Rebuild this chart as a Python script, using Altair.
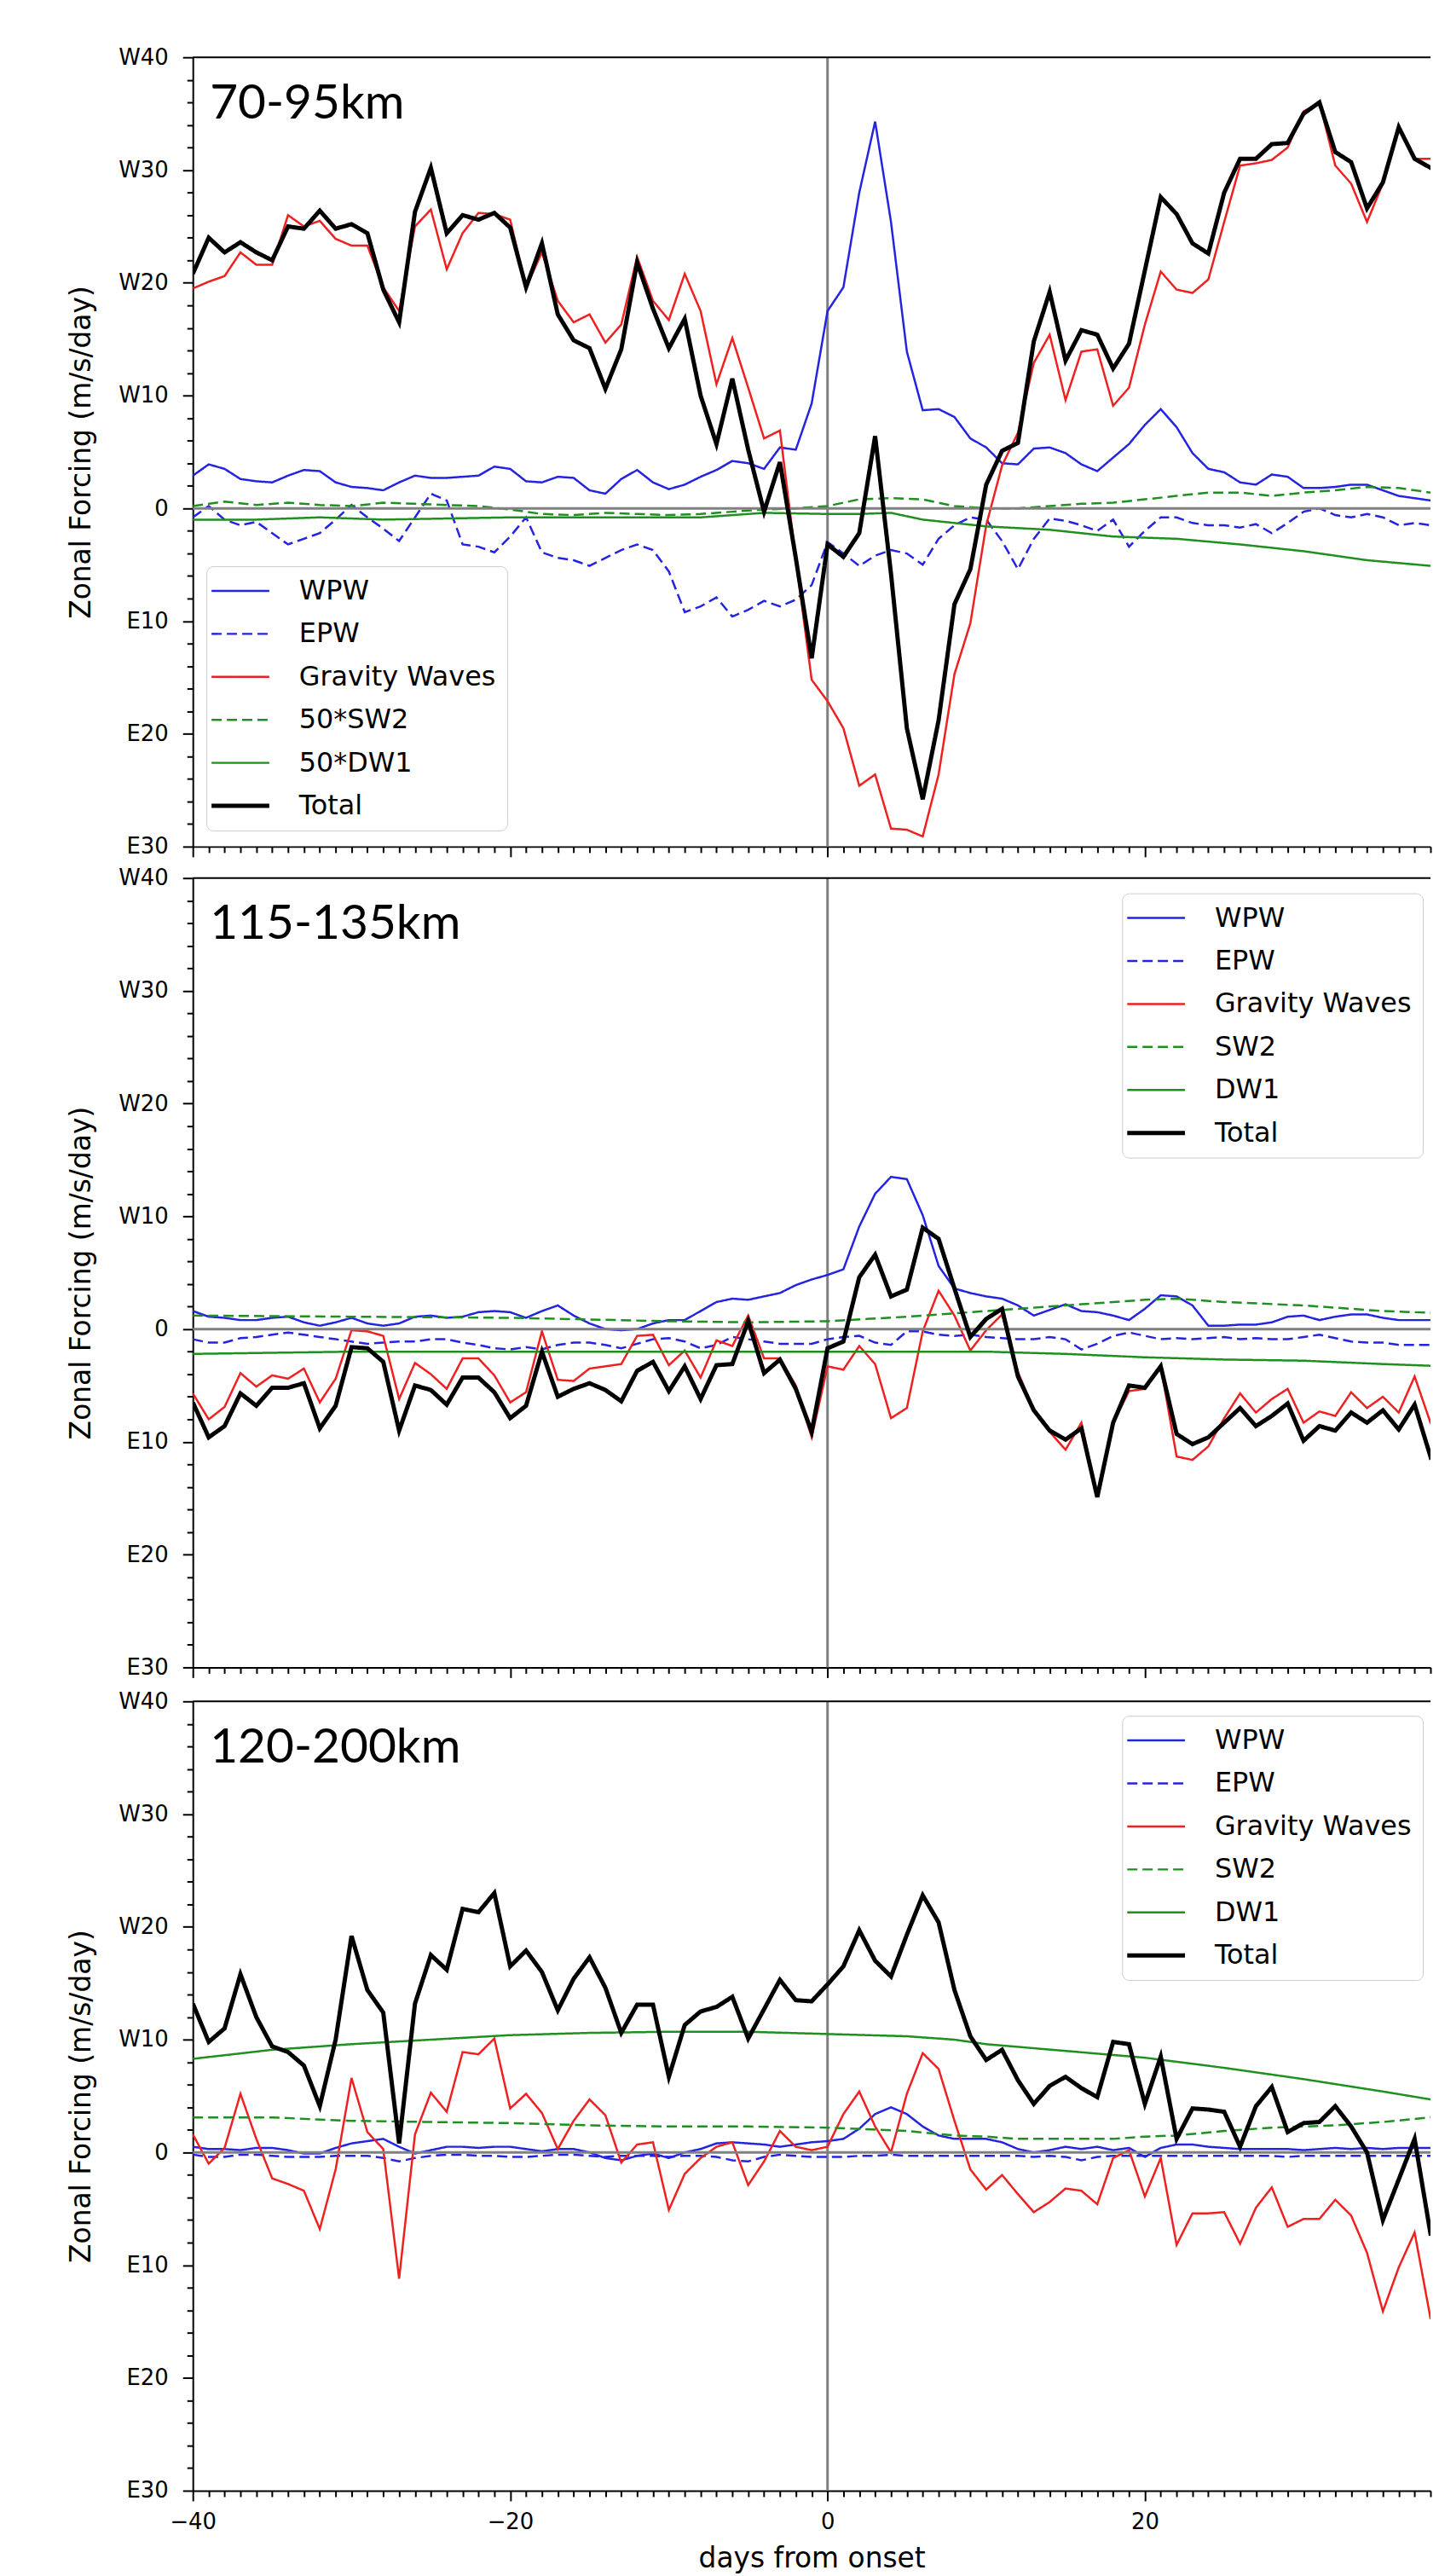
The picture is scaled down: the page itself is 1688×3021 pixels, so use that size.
import altair as alt
import pandas as pd

# ---------------- data ----------------
DAYS = list(range(-40, 40))

# Panel 1: 70-95km
P1_WPW = [2.9, 3.9, 3.5, 2.6, 2.4, 2.3, 2.9, 3.4, 3.3, 2.3,
          1.9, 1.8, 1.6, 2.3, 2.9, 2.7, 2.7, 2.8, 2.9, 3.7,
          3.5, 2.4, 2.3, 2.8, 2.7, 1.6, 1.3, 2.6, 3.4, 2.3,
          1.7, 2.1, 2.8, 3.4, 4.2, 4.0, 3.5, 5.4, 5.2, 9.3,
          17.5, 19.6, 28.0, 34.3, 25.4, 13.9, 8.7, 8.8, 8.1, 6.2,
          5.4, 4.0, 3.9, 5.3, 5.4, 4.9, 3.9, 3.3, 4.5, 5.7,
          7.4, 8.8, 7.2, 4.9, 3.5, 3.2, 2.3, 2.1, 3.0, 2.8,
          1.8, 1.8, 1.9, 2.1, 2.1, 1.6, 1.1, 0.9, 0.7, 0.6]
P1_EPW = [-0.8, 0.2, -1.0, -1.5, -1.2, -2.2, -3.2, -2.7, -2.2, -1.0,
          0.3, -0.8, -1.8, -2.9, -0.8, 1.3, 0.7, -3.2, -3.4, -3.9,
          -2.5, -0.8, -3.9, -4.4, -4.6, -5.1, -4.4, -3.7, -3.2, -3.7,
          -5.6, -9.2, -8.7, -7.9, -9.6, -9.0, -8.2, -8.7, -8.1, -6.8,
          -3.0, -4.0, -5.1, -4.2, -3.7, -4.0, -5.0, -2.7, -1.5, -0.8,
          -1.0, -2.9, -5.4, -2.7, -0.9, -1.1, -1.5, -2.0, -1.0, -3.4,
          -2.0, -0.8, -0.8, -1.3, -1.5, -1.5, -1.7, -1.4, -2.2, -1.3,
          -0.3, 0.0, -0.6, -0.8, -0.5, -0.8, -1.5, -1.3, -1.5, -1.5]
P1_GW = [19.5, 20.1, 20.6, 22.7, 21.6, 21.6, 26.0, 25.0, 25.5, 23.9,
         23.3, 23.3, 19.6, 17.5, 25.0, 26.5, 21.2, 24.4, 26.2, 26.1,
         25.6, 19.6, 22.7, 18.4, 16.5, 17.2, 14.7, 16.3, 22.3, 18.4,
         16.7, 20.8, 17.5, 11.0, 15.1, 10.7, 6.2, 6.9, -4.5, -15.2,
         -17.1, -19.5, -24.6, -23.6, -28.4, -28.5, -29.1, -23.6, -14.7, -10.2,
         -1.5, 3.8, 6.7, 12.9, 15.4, 9.6, 13.9, 14.1, 9.1, 10.7,
         16.3, 21.0, 19.4, 19.1, 20.3, 25.4, 30.4, 30.6, 30.9, 32.0,
         35.2, 36.0, 30.4, 28.8, 25.4, 28.8, 33.7, 31.0, 31.0, 31.0]
P1_TOTAL = [20.8, 24.0, 22.7, 23.6, 22.7, 22.0, 25.0, 24.8, 26.4, 24.8,
            25.2, 24.4, 19.4, 16.5, 26.3, 30.2, 24.4, 26.0, 25.6, 26.2,
            24.9, 19.6, 23.5, 17.2, 14.9, 14.2, 10.6, 14.1, 21.8, 17.7,
            14.2, 16.8, 10.0, 5.7, 11.5, 5.2, -0.3, 4.1, -4.4, -13.3,
            -3.2, -4.3, -2.2, 6.4, -5.8, -19.5, -25.8, -18.8, -8.5, -5.4,
            2.1, 5.1, 5.8, 14.8, 19.2, 13.1, 15.8, 15.4, 12.4, 14.6,
            21.1, 27.6, 26.1, 23.5, 22.6, 28.0, 31.0, 31.0, 32.3, 32.4,
            35.0, 36.0, 31.6, 30.7, 26.6, 28.9, 33.8, 31.0, 30.2, 29.5]
P1_SW2_DAYS = [-40, -38, -36, -34, -32, -30, -28, -26, -24, -22, -20, -18, -16, -14,
               -12, -10, -8, -6, -4, -2, 0, 2, 4, 6, 8, 10, 12, 14, 16, 18, 20, 22,
               24, 26, 28, 30, 32, 34, 36, 38, 39]
P1_SW2 = [0.2, 0.6, 0.3, 0.5, 0.3, 0.2, 0.5, 0.4, 0.3, 0.2, -0.1, -0.5, -0.6, -0.4,
          -0.5, -0.6, -0.5, -0.3, -0.1, 0.0, 0.2, 0.8, 0.9, 0.8, 0.2, 0.0, 0.0, 0.2,
          0.4, 0.5, 0.8, 1.1, 1.4, 1.4, 1.1, 1.4, 1.6, 1.9, 1.8, 1.4, 1.2]
P1_DW1_DAYS = [-40, -36, -32, -28, -24, -20, -16, -12, -8, -4, 0, 2, 4, 6, 8, 10, 14,
               18, 22, 26, 30, 34, 38, 39]
P1_DW1 = [-1.0, -1.0, -0.8, -1.0, -0.9, -0.8, -0.8, -0.8, -0.8, -0.4, -0.5, -0.5,
          -0.4, -1.0, -1.3, -1.6, -1.9, -2.5, -2.7, -3.2, -3.8, -4.6, -5.1, -5.2]

# Panel 2: 115-135km
P2_WPW = [1.6, 1.1, 1.0, 0.8, 0.8, 1.0, 1.1, 0.6, 0.3, 0.6,
          1.0, 0.5, 0.3, 0.5, 1.1, 1.2, 1.0, 1.1, 1.5, 1.6,
          1.5, 1.0, 1.6, 2.1, 1.2, 0.5, 0.0, -0.1, 0.0, 0.5,
          0.8, 0.8, 1.6, 2.4, 2.7, 2.6, 2.9, 3.2, 3.9, 4.4,
          4.8, 5.3, 9.1, 12.0, 13.5, 13.3, 10.1, 5.6, 3.6, 3.2,
          2.9, 2.7, 2.1, 1.2, 1.7, 2.2, 1.6, 1.5, 1.2, 0.8,
          1.8, 3.0, 2.9, 2.1, 0.3, 0.3, 0.4, 0.4, 0.6, 1.1,
          1.2, 0.8, 1.1, 1.3, 1.3, 1.0, 0.8, 0.8, 0.8, 0.8]
P2_EPW = [-0.9, -1.2, -1.2, -0.8, -0.7, -0.5, -0.3, -0.5, -0.7, -0.9,
          -1.1, -1.3, -1.2, -1.1, -1.1, -0.9, -0.9, -1.2, -1.4, -1.7,
          -1.8, -1.6, -1.8, -1.4, -1.2, -1.2, -1.4, -1.7, -1.3, -0.9,
          -0.8, -1.1, -1.7, -1.4, -0.7, -0.9, -1.1, -1.3, -1.3, -1.3,
          -0.9, -0.7, -0.6, -1.2, -1.4, -0.2, -0.2, -0.5, -0.6, -0.5,
          -0.7, -0.8, -0.9, -0.9, -0.7, -0.9, -1.8, -1.3, -0.6, -0.3,
          -0.6, -0.9, -0.8, -0.9, -0.8, -0.7, -0.9, -0.8, -0.9, -0.9,
          -0.7, -0.5, -0.8, -1.1, -1.2, -1.2, -1.4, -1.4, -1.4, -1.4]
P2_GW = [-5.7, -8.0, -6.9, -3.9, -5.1, -4.1, -4.4, -3.5, -6.5, -4.4,
         -0.1, -0.2, -0.6, -6.2, -3.0, -4.0, -5.3, -2.6, -2.6, -4.1,
         -6.5, -5.6, -0.2, -4.5, -4.6, -3.5, -3.3, -3.1, -0.6, -0.5,
         -3.2, -1.9, -4.3, -1.0, -1.5, 1.2, -2.6, -2.6, -5.0, -9.6,
         -3.3, -3.6, -1.5, -3.1, -7.9, -7.0, -0.2, 3.4, 1.2, -1.9,
         -0.1, 1.3, -3.8, -7.2, -9.1, -10.7, -8.3, -14.9, -8.3, -5.5,
         -5.3, -3.3, -11.3, -11.6, -10.4, -7.9, -5.7, -7.4, -6.2, -5.3,
         -8.3, -7.3, -7.7, -5.6, -7.0, -6.0, -7.4, -4.2, -8.3, -8.0]
P2_TOTAL = [-6.5, -9.6, -8.6, -5.7, -6.8, -5.2, -5.2, -4.8, -8.8, -6.8,
            -1.6, -1.7, -2.9, -9.0, -5.0, -5.4, -6.7, -4.3, -4.3, -5.6,
            -7.9, -6.8, -2.0, -6.0, -5.3, -4.8, -5.4, -6.4, -3.7, -2.9,
            -5.5, -3.3, -6.2, -3.2, -3.1, 0.7, -3.9, -2.7, -5.3, -9.1,
            -1.7, -1.1, 4.6, 6.6, 2.9, 3.5, 9.0, 8.0, 3.6, -0.7,
            0.9, 1.8, -4.2, -7.2, -9.0, -9.8, -8.8, -14.9, -8.3, -5.0,
            -5.2, -3.3, -9.3, -10.2, -9.6, -8.3, -7.0, -8.6, -7.7, -6.6,
            -9.9, -8.6, -9.0, -7.4, -8.3, -7.2, -8.9, -6.7, -11.3, -10.0]
P2_SW2_DAYS = [-40, -30, -20, -10, -5, 0, 5, 10, 15, 20, 22, 25, 30, 35, 39]
P2_SW2 = [1.2, 1.1, 1.0, 0.7, 0.6, 0.7, 1.1, 1.6, 2.1, 2.6, 2.7, 2.4, 2.1, 1.6, 1.4]
P2_DW1_DAYS = [-40, -30, -20, -10, 0, 10, 15, 20, 25, 30, 35, 39]
P2_DW1 = [-2.2, -2.0, -2.0, -2.0, -2.0, -2.0, -2.2, -2.5, -2.7, -2.8, -3.1, -3.3]

# Panel 3: 120-200km
P3_WPW = [0.5, 0.3, 0.3, 0.2, 0.4, 0.4, 0.2, -0.1, -0.1, 0.4,
          0.8, 1.0, 1.2, 0.5, -0.1, 0.2, 0.5, 0.5, 0.4, 0.5,
          0.5, 0.3, 0.1, 0.3, 0.3, 0.0, -0.5, -0.7, -0.3, -0.1,
          -0.5, 0.0, 0.3, 0.8, 0.9, 0.8, 0.7, 0.5, 0.7, 0.9,
          1.0, 1.2, 2.1, 3.4, 4.0, 3.4, 2.3, 1.5, 1.2, 1.2,
          1.2, 0.9, 0.3, 0.0, 0.2, 0.5, 0.3, 0.5, 0.2, 0.4,
          -0.4, 0.4, 0.7, 0.7, 0.5, 0.4, 0.3, 0.3, 0.3, 0.3,
          0.2, 0.3, 0.4, 0.3, 0.4, 0.3, 0.4, 0.4, 0.4, 0.4]
P3_EPW = [-0.2, -0.4, -0.4, -0.2, -0.2, -0.3, -0.4, -0.4, -0.4, -0.3,
          -0.3, -0.3, -0.5, -0.8, -0.5, -0.3, -0.2, -0.2, -0.3, -0.3,
          -0.4, -0.4, -0.3, -0.2, -0.2, -0.3, -0.4, -0.3, -0.3, -0.3,
          -0.4, -0.3, -0.3, -0.4, -0.7, -0.8, -0.4, -0.2, -0.3, -0.4,
          -0.4, -0.4, -0.3, -0.3, -0.2, -0.3, -0.3, -0.3, -0.3, -0.3,
          -0.3, -0.3, -0.3, -0.4, -0.3, -0.4, -0.7, -0.4, -0.3, -0.3,
          -0.3, -0.3, -0.3, -0.3, -0.3, -0.3, -0.3, -0.3, -0.3, -0.4,
          -0.3, -0.3, -0.3, -0.3, -0.3, -0.3, -0.3, -0.3, -0.3, -0.3]
P3_GW = [1.6, -1.0, 0.4, 5.2, 1.2, -2.3, -2.8, -3.4, -6.8, -1.5,
         6.6, 1.8, 0.3, -11.2, 1.6, 5.3, 3.6, 8.9, 8.7, 10.1,
         3.9, 5.2, 3.5, 0.3, 2.8, 4.7, 3.3, -0.9, 0.7, 0.9,
         -5.1, -1.9, -0.5, 0.5, 0.9, -2.9, -0.8, 1.9, 0.5, 0.2,
         0.5, 3.4, 5.4, 2.3, 0.0, 5.2, 8.8, 7.4, 2.8, -1.5,
         -3.3, -2.0, -3.7, -5.3, -4.4, -3.2, -3.4, -4.6, -0.5, 0.2,
         -3.9, -0.5, -8.2, -5.4, -5.4, -5.3, -8.1, -4.9, -3.1, -6.6,
         -5.9, -5.9, -4.2, -5.6, -8.9, -14.1, -10.2, -7.1, -14.7, -14.5]
P3_TOTAL = [13.2, 9.8, 11.0, 15.8, 12.0, 9.4, 8.9, 7.7, 4.1, 10.0,
            19.2, 14.4, 12.4, 0.8, 13.2, 17.5, 16.2, 21.6, 21.3, 23.0,
            16.5, 17.9, 16.0, 12.6, 15.4, 17.3, 14.6, 10.6, 13.1, 13.1,
            6.7, 11.3, 12.5, 12.9, 13.8, 10.1, 12.7, 15.3, 13.5, 13.4,
            14.9, 16.5, 19.7, 17.0, 15.6, 19.3, 22.8, 20.4, 14.4, 10.3,
            8.2, 9.1, 6.4, 4.3, 5.9, 6.7, 5.7, 4.9, 9.8, 9.6,
            4.3, 8.5, 1.2, 3.9, 3.8, 3.6, 0.5, 4.1, 5.8, 1.8,
            2.6, 2.7, 4.1, 2.3, 0.0, -6.0, -2.4, 1.2, -7.2, -7.0]
P3_SW2_DAYS = [-40, -35, -30, -25, -20, -15, -10, -5, 0, 5, 8, 10, 12, 15, 18, 20,
               22, 25, 28, 30, 32, 35, 38, 39]
P3_SW2 = [3.1, 3.1, 2.8, 2.7, 2.6, 2.4, 2.3, 2.3, 2.2, 1.9, 1.5, 1.4, 1.2, 1.2, 1.2,
          1.4, 1.5, 1.9, 2.2, 2.3, 2.4, 2.7, 3.1, 3.2]
P3_DW1_DAYS = [-40, -35, -30, -25, -20, -15, -10, -5, 0, 5, 8, 10, 15, 20, 25, 30,
               35, 38, 39]
P3_DW1 = [8.3, 9.1, 9.6, 10.0, 10.4, 10.6, 10.7, 10.7, 10.5, 10.3, 10.0, 9.6, 9.0,
          8.4, 7.5, 6.5, 5.4, 4.7, 4.5]

NAMES_P1 = ["WPW", "EPW", "Gravity Waves", "50*SW2", "50*DW1", "Total"]
NAMES_P23 = ["WPW", "EPW", "Gravity Waves", "SW2", "DW1", "Total"]
PANEL_LABELS = ["70-95km", "115-135km", "120-200km"]
Y_TICKS = list(range(-30, 41, 2))
X_TICKS = list(range(-40, 39))
X_MAX = 38.0

# ---------------- styling ----------------
BLUE = "#2424e0"
RED = "#ee2020"
GREEN = "#1f8f1f"
BLACK = "#000000"
COLORS = [BLUE, BLUE, RED, GREEN, GREEN, BLACK]
DASHES = [[1, 0], [12, 6], [1, 0], [12, 6], [1, 0], [1, 0]]
THIN = 2.5
THICK = 5

PX_PER_DAY = 18.675
PLOT_W = round((X_MAX + 40) * PX_PER_DAY)
PLOT_H = 929
FONT = "DejaVu Sans"


def long_frame(series):
    rows = []
    for name, days, vals in series:
        lw = THICK if name == "Total" else THIN
        for d, v in zip(days, vals):
            rows.append({"day": d, "value": v, "series": name, "lw": lw})
    return pd.DataFrame(rows)


def make_panel(series, names, label, lx, ly, bottom):
    df = long_frame(series)
    leg = alt.Legend(
        orient="none", legendX=lx, legendY=ly, title=None,
        symbolType="stroke", symbolSize=4624, labelFontSize=32,
        labelFont=FONT, labelColor="black", rowPadding=18.6, padding=13,
        symbolOffset=11, labelOffset=53, strokeColor="#cccccc", fillColor="white",
        cornerRadius=8, labelLimit=0,
        symbolStrokeWidth=alt.ExprRef(f"datum.value === 'Total' ? {THICK} : {THIN}"),
    )
    y_axis = alt.Axis(
        values=Y_TICKS, title="Zonal Forcing (m/s/day)",
        labelExpr="datum.value % 10 !== 0 ? '' : (datum.value > 0 ? 'W' + datum.value : (datum.value < 0 ? 'E' + (-datum.value) : '0'))",
        tickSize={"condition": {"test": "datum.value % 10 === 0", "value": 12}, "value": 7},
        labelPadding=17, titlePadding=26, labelOverlap=False,
    )
    if bottom:
        x_axis = alt.Axis(
            values=X_TICKS, title="days from onset",
            labelExpr="datum.value % 20 === 0 ? datum.label : ''",
            tickSize={"condition": {"test": "datum.value % 20 === 0", "value": 12}, "value": 7},
            labelPadding=12, titlePadding=14, labelOverlap=False, labelFlush=False,
        )
    else:
        x_axis = alt.Axis(
            values=X_TICKS, title=None, labels=False,
            tickSize={"condition": {"test": "datum.value % 20 === 0", "value": 12}, "value": 7},
        )
    x = alt.X("day:Q", scale=alt.Scale(domain=[-40, X_MAX], nice=False, zero=False), axis=x_axis)
    y = alt.Y("value:Q", scale=alt.Scale(domain=[-30, 40], nice=False, zero=False), axis=y_axis)
    color = alt.Color("series:N", scale=alt.Scale(domain=names, range=COLORS), legend=leg)
    dash = alt.StrokeDash("series:N", scale=alt.Scale(domain=names, range=DASHES), legend=leg)
    sw = alt.StrokeWidth("lw:Q", scale=None, legend=None)

    base = alt.Chart(df)
    thin = base.transform_filter(alt.datum.series != "Total").mark_line(clip=True).encode(
        x=x, y=y, color=color, strokeDash=dash, strokeWidth=sw, order="day:Q"
    )
    total = base.transform_filter(alt.datum.series == "Total").mark_line(clip=True).encode(
        x=x, y=y, color=color, strokeDash=dash, strokeWidth=sw, order="day:Q"
    )
    hline = alt.Chart(pd.DataFrame({"value": [0]})).mark_rule(
        color="#808080", strokeWidth=3).encode(y=y)
    top = alt.Chart(pd.DataFrame({"value": [40]})).mark_rule(
        color="black", strokeWidth=2).encode(y=y)
    vline = alt.Chart(pd.DataFrame({"day": [0]})).mark_rule(
        color="#808080", strokeWidth=3).encode(x=x)
    text = alt.Chart(pd.DataFrame({"t": [label]})).mark_text(
        align="left", baseline="middle", font="Lato", fontSize=57, color="black"
    ).encode(text="t:N", x=alt.value(20), y=alt.value(55))

    return alt.layer(vline, thin, hline, total, top, text).properties(
        width=PLOT_W, height=PLOT_H
    )


p1 = make_panel(
    [(NAMES_P1[0], DAYS, P1_WPW), (NAMES_P1[1], DAYS, P1_EPW), (NAMES_P1[2], DAYS, P1_GW),
     (NAMES_P1[3], P1_SW2_DAYS, P1_SW2), (NAMES_P1[4], P1_DW1_DAYS, P1_DW1),
     (NAMES_P1[5], DAYS, P1_TOTAL)],
    NAMES_P1, PANEL_LABELS[0], 16, 599, False)
p2 = make_panel(
    [(NAMES_P23[0], DAYS, P2_WPW), (NAMES_P23[1], DAYS, P2_EPW), (NAMES_P23[2], DAYS, P2_GW),
     (NAMES_P23[3], P2_SW2_DAYS, P2_SW2), (NAMES_P23[4], P2_DW1_DAYS, P2_DW1),
     (NAMES_P23[5], DAYS, P2_TOTAL)],
    NAMES_P23, PANEL_LABELS[1], 1094, 18, False)
p3 = make_panel(
    [(NAMES_P23[0], DAYS, P3_WPW), (NAMES_P23[1], DAYS, P3_EPW), (NAMES_P23[2], DAYS, P3_GW),
     (NAMES_P23[3], P3_SW2_DAYS, P3_SW2), (NAMES_P23[4], P3_DW1_DAYS, P3_DW1),
     (NAMES_P23[5], DAYS, P3_TOTAL)],
    NAMES_P23, PANEL_LABELS[2], 1094, 17, True)

lower = alt.vconcat(p2, p3, spacing=14).resolve_scale(
    color="independent", strokeDash="independent"
).resolve_legend(
    color="independent", strokeDash="independent"
)

chart = alt.vconcat(p1, lower, spacing=11).resolve_scale(
    color="independent", strokeDash="independent"
).resolve_legend(
    color="independent", strokeDash="independent"
).properties(
    padding={"left": 72, "top": 41, "right": 0, "bottom": 0},
    background="white",
).configure_view(
    stroke=None
).configure_axis(
    grid=False, domainColor="black", domainWidth=2, tickColor="black", tickWidth=2,
    labelColor="black", labelFont=FONT, labelFontSize=26,
    titleColor="black", titleFont=FONT, titleFontSize=33, titleFontWeight="normal",
)

chart.save("out.html", embed_options={"renderer": "svg", "actions": False})
